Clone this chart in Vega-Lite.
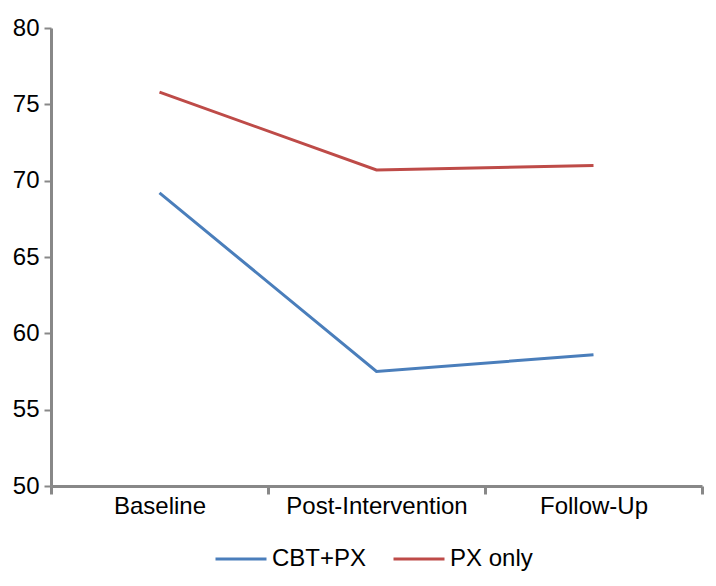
{
  "$schema": "https://vega.github.io/schema/vega-lite/v6.json",
  "autosize": "none",
  "width": 651,
  "height": 458,
  "padding": {"left": 51, "top": 28, "right": 14, "bottom": 100},
  "background": "white",
  "data": {
    "values": [
      {"time": "Baseline", "group": "CBT+PX", "value": 69.2},
      {"time": "Post-Intervention", "group": "CBT+PX", "value": 57.5},
      {"time": "Follow-Up", "group": "CBT+PX", "value": 58.6},
      {"time": "Baseline", "group": "PX only", "value": 75.8},
      {"time": "Post-Intervention", "group": "PX only", "value": 70.7},
      {"time": "Follow-Up", "group": "PX only", "value": 71.0}
    ]
  },
  "mark": {"type": "line", "strokeWidth": 3},
  "encoding": {
    "x": {
      "field": "time",
      "type": "nominal",
      "sort": ["Baseline", "Post-Intervention", "Follow-Up"],
      "bandPosition": 0.5,
      "scale": {"type": "band", "paddingInner": 0, "paddingOuter": 0},
      "axis": {
        "title": null,
        "labelAngle": 0,
        "labelLimit": 0,
        "tickBand": "extent",
        "tickSize": 8,
        "tickWidth": 3,
        "tickColor": "#888888",
        "domainColor": "#888888",
        "domainWidth": 3,
        "labelPadding": 0,
        "labelFont": "Liberation Sans",
        "labelFontSize": 24,
        "labelColor": "black",
        "grid": false
      }
    },
    "y": {
      "field": "value",
      "type": "quantitative",
      "scale": {"domain": [50, 80], "nice": false, "zero": false},
      "axis": {
        "title": null,
        "values": [50, 55, 60, 65, 70, 75, 80],
        "tickSize": 7,
        "tickWidth": 2,
        "tickColor": "#888888",
        "domainColor": "#888888",
        "domainWidth": 3,
        "labelPadding": 5,
        "labelFont": "Liberation Sans",
        "labelFontSize": 24,
        "labelColor": "black",
        "grid": false
      }
    },
    "color": {
      "field": "group",
      "type": "nominal",
      "scale": {"domain": ["CBT+PX", "PX only"], "range": ["#4A7EBB", "#BE4B48"]},
      "legend": {
        "title": null,
        "orient": "none",
        "legendX": 163,
        "legendY": 504,
        "direction": "horizontal",
        "symbolType": "stroke",
        "symbolSize": 2601,
        "symbolStrokeWidth": 3,
        "labelFont": "Liberation Sans",
        "labelFontSize": 24,
        "labelColor": "black",
        "labelOffset": 4,
        "columnPadding": 20,
        "labelLimit": 0
      }
    }
  },
  "config": {"view": {"stroke": null}}
}
